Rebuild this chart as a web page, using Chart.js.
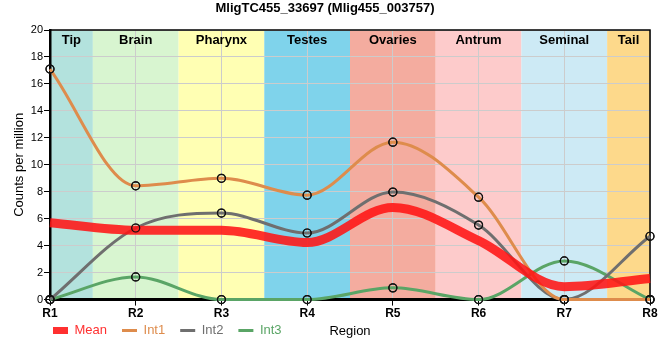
<!DOCTYPE html>
<html>
<head>
<meta charset="utf-8">
<script src="https://cdn.jsdelivr.net/npm/chart.js@4.4.1/dist/chart.umd.min.js"></script>
<style>
    html, body { margin: 0; padding: 0; background: #fff; }
</style>
</head>
<body>
<canvas id="expression-canvas" width="660" height="360"></canvas>
<script>
// x ticks (regions along the body)
const regions = ['R1', 'R2', 'R3', 'R4', 'R5', 'R6', 'R7', 'R8'];

// counts per million
const meanCpm = [5.70, 5.14, 5.14, 4.23, 6.84, 4.38, 0.96, 1.57];
const int1Cpm = [17.1, 8.44, 9.0, 7.75, 11.68, 7.6, 0, 0];
const int2Cpm = [0, 5.31, 6.42, 4.94, 7.98, 5.53, 0, 4.7];
const int3Cpm = [0, 1.68, 0, 0, 0.87, 0, 2.87, 0];

// tissue bands, one per region
const tissues = ['Tip', 'Brain', 'Pharynx', 'Testes', 'Ovaries', 'Antrum', 'Seminal', 'Tail'];
const tissueColors = ['#b3e2dd', '#d8f5d0', '#ffffb3', '#7fd3eb', '#f4ac9f', '#fdcbcb', '#cdeaf5', '#fdd98b'];

const COL_MEAN = 'rgba(255, 20, 20, 0.88)';
const COL_INT1 = '#de8c4c';
const COL_INT2 = '#6f6f6f';
const COL_INT3 = '#5aa566';

Chart.defaults.font.family = '"Liberation Sans", Arial, sans-serif';
Chart.defaults.color = '#000';

const tissueBands = {
    id: 'tissueBands',
    beforeDraw(chart) {
        const {ctx, chartArea: a, scales: {x}} = chart;
        ctx.save();
        tissues.forEach((name, i) => {
            const x0 = Math.max(a.left, x.getPixelForValue(i - 0.5));
            const x1 = Math.min(a.right, x.getPixelForValue(i + 0.5));
            ctx.fillStyle = tissueColors[i];
            ctx.fillRect(x0, a.top, x1 - x0, a.bottom - a.top);
        });
        ctx.restore();
    },
    beforeDatasetsDraw(chart) {
        const {ctx, chartArea: a, scales: {x}} = chart;
        ctx.save();
        // frame on top and right
        ctx.strokeStyle = '#000';
        ctx.lineWidth = 1.5;
        ctx.beginPath();
        ctx.moveTo(a.left, a.top);
        ctx.lineTo(a.right, a.top);
        ctx.lineTo(a.right, a.bottom);
        ctx.stroke();
        // tissue names
        ctx.fillStyle = '#000';
        ctx.font = 'bold 13px "Liberation Sans", Arial, sans-serif';
        ctx.textAlign = 'center';
        ctx.textBaseline = 'middle';
        tissues.forEach((name, i) => {
            const x0 = Math.max(a.left, x.getPixelForValue(i - 0.5));
            const x1 = Math.min(a.right, x.getPixelForValue(i + 0.5));
            ctx.fillText(name, (x0 + x1) / 2, a.top + 10);
        });
        ctx.restore();
    },
    afterDatasetsDraw(chart) {
        // circles sit above the thick mean line
        const ctx = chart.ctx;
        for (let i = 1; i < chart.data.datasets.length; i++) {
            chart.getDatasetMeta(i).data.forEach(p => p.draw(ctx, chart.chartArea));
        }
    },
    afterLayout(chart) {
        // legend shares the row with the axis title
        const lg = chart.legend;
        lg.left += 38;
        lg.right += 38;
        lg.top -= 13;
        lg.bottom -= 13;
    }
};

const pointStyle = {
    pointRadius: 4,
    pointBorderColor: '#111',
    pointBorderWidth: 1.2,
    pointBackgroundColor: 'rgba(0,0,0,0)',
};

new Chart(document.getElementById('expression-canvas'), {
    type: 'line',
    data: {
        labels: regions,
        datasets: [
            {
                label: 'Mean',
                data: meanCpm,
                borderColor: COL_MEAN,
                borderWidth: 9,
                pointRadius: 0,
                cubicInterpolationMode: 'monotone',
                clip: false,
            },
            Object.assign({
                label: 'Int1',
                data: int1Cpm,
                borderColor: COL_INT1,
                borderWidth: 3,
                cubicInterpolationMode: 'monotone',
                clip: false,
            }, pointStyle),
            Object.assign({
                label: 'Int2',
                data: int2Cpm,
                borderColor: COL_INT2,
                borderWidth: 3,
                cubicInterpolationMode: 'monotone',
                clip: false,
            }, pointStyle),
            Object.assign({
                label: 'Int3',
                data: int3Cpm,
                borderColor: COL_INT3,
                borderWidth: 3,
                cubicInterpolationMode: 'monotone',
                clip: false,
            }, pointStyle),
        ]
    },
    options: {
        responsive: false,
        animation: false,
        events: [],
        layout: {
            padding: {left: 0, right: 10, top: 0, bottom: 0}
        },
        plugins: {
            title: {
                display: true,
                text: 'MligTC455_33697 (Mlig455_003757)',
                color: '#000',
                font: {size: 13, weight: 'bold'},
                padding: {top: 1, bottom: 13.4}
            },
            legend: {
                position: 'bottom',
                align: 'start',
                labels: {
                    usePointStyle: true,
                    pointStyleWidth: 15,
                    boxHeight: 7,
                    padding: 15,
                    font: {size: 13},
                    generateLabels(chart) {
                        return chart.data.datasets.map((ds, i) => ({
                            text: ds.label,
                            fillStyle: i === 0 ? '#ff3030' : ds.borderColor,
                            strokeStyle: ds.borderColor,
                            fontColor: i === 0 ? '#ff3030' : ds.borderColor,
                            lineWidth: i === 0 ? 0 : 3,
                            pointStyle: i === 0 ? 'rect' : 'line',
                            hidden: false,
                            datasetIndex: i
                        }));
                    }
                }
            },
            tooltip: {enabled: false}
        },
        scales: {
            x: {
                grid: {color: '#cccccc', tickColor: '#000', tickLength: 6},
                border: {color: '#000', width: 3},
                ticks: {font: {size: 12, weight: 'bold'}, padding: 1, color: '#000'},
                title: {
                    display: true,
                    text: 'Region',
                    font: {size: 13},
                    padding: {top: 2, bottom: -17.6}
                }
            },
            y: {
                min: 0,
                max: 20,
                ticks: {stepSize: 2, font: {size: 11}, padding: 1, color: '#000'},
                grid: {color: '#cccccc', tickColor: '#000', tickLength: 6},
                border: {color: '#000', width: 2.5},
                title: {
                    display: true,
                    text: 'Counts per million',
                    font: {size: 13},
                    padding: {top: 12, bottom: 0}
                },
                afterFit(scale) {
                    scale.width = 50;
                }
            }
        }
    },
    plugins: [tissueBands]
});
</script>
</body>
</html>
